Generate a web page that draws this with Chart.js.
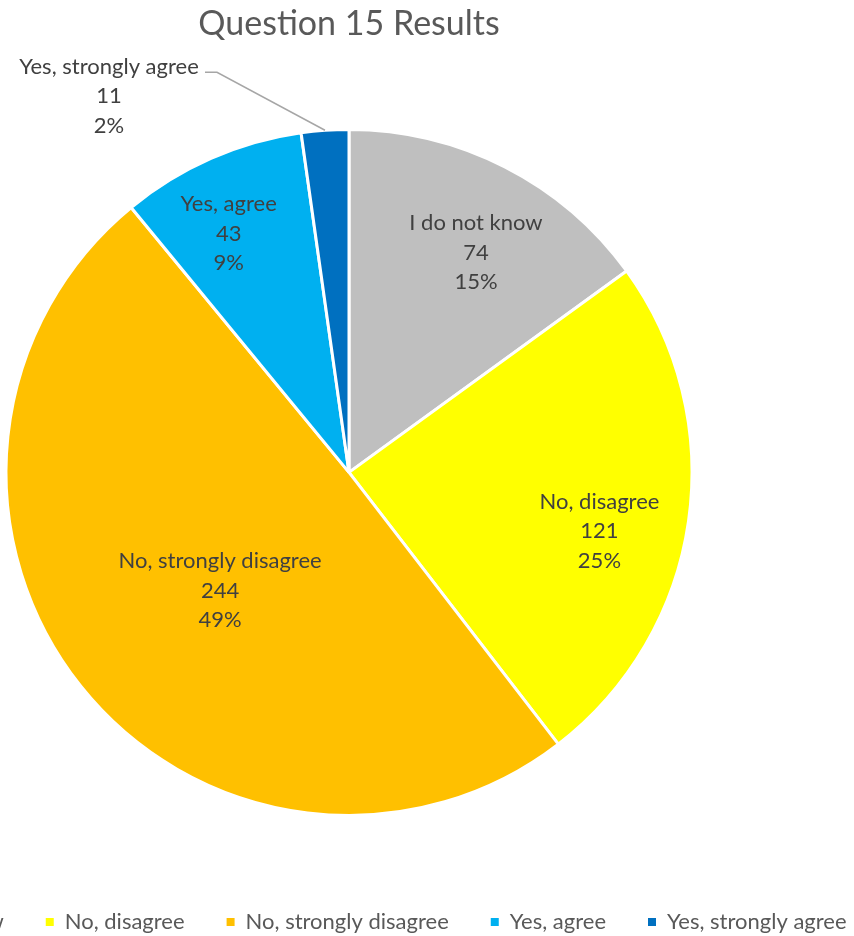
<!DOCTYPE html>
<html>
<head>
<meta charset="utf-8">
<script src="https://cdn.jsdelivr.net/npm/chart.js@4"></script>
<style>
  html, body { margin: 0; padding: 0; background: #fff; overflow: hidden; }
  #wrap { position: absolute; left: -301px; top: 0; width: 1300px; height: 975px; }
</style>
</head>
<body>
<div id="wrap"><canvas id="grafico" width="1300" height="975"></canvas></div>
<script>
const categorias = ['I do not know', 'No, disagree', 'No, strongly disagree', 'Yes, agree', 'Yes, strongly agree'];
const respostas = [74, 121, 244, 43, 11];
const cores = ['#BFBFBF', '#FFFF00', '#FFC000', '#00B0F0', '#0070C0'];

// onde cada rótulo fica (fração do raio, 0 = fora com linha guia) e pequeno ajuste de ângulo
const raioRotulo = [0.74, 0.75, 0.51, 0.78, 0];
const ajusteAngulo = [3, 5, -4, -3, 0];

const fonte = 'Lato, "Open Sans", sans-serif';
const ctx = document.getElementById('grafico').getContext('2d');

const rotulos = {
  id: 'rotulos',
  afterDatasetsDraw(chart) {
    const c = chart.ctx;
    const meta = chart.getDatasetMeta(0);
    const total = respostas.reduce((a, b) => a + b, 0);
    c.save();
    c.font = '22px ' + fonte;
    c.fillStyle = '#404040';
    c.textAlign = 'center';
    c.textBaseline = 'middle';
    meta.data.forEach((arc, i) => {
      const { x, y, startAngle, endAngle, outerRadius } = arc.getProps(['x', 'y', 'startAngle', 'endAngle', 'outerRadius'], true);
      const meio = (startAngle + endAngle) / 2 + ajusteAngulo[i] * Math.PI / 180;
      const linhas = [categorias[i], String(respostas[i]), Math.round(respostas[i] / total * 100) + '%'];
      let cx, cy;
      if (raioRotulo[i] > 0) {
        cx = x + Math.cos(meio) * outerRadius * raioRotulo[i];
        cy = y + Math.sin(meio) * outerRadius * raioRotulo[i];
      } else {
        // rótulo de fora com linha guia
        const px = x + Math.cos(meio) * outerRadius;
        const py = y + Math.sin(meio) * outerRadius;
        c.strokeStyle = '#A6A6A6';
        c.lineWidth = 1.5;
        c.beginPath();
        c.moveTo(px, py);
        c.lineTo(px - 108, py - 58);
        c.lineTo(px - 120, py - 58);
        c.stroke();
        cx = px - 216;
        cy = py - 34;
      }
      linhas.forEach((t, k) => c.fillText(t, cx, cy + (k - 1) * 29.5));
    });
    c.restore();
  }
};

const chart = new Chart(ctx, {
  type: 'pie',
  data: {
    labels: categorias,
    datasets: [{
      data: respostas,
      backgroundColor: cores,
      borderColor: '#fff',
      borderWidth: 3,
      radius: 343
    }]
  },
  options: {
    responsive: false,
    animation: false,
    layout: { padding: { top: 0, bottom: 32, left: 0, right: 0 } },
    plugins: {
      title: {
        display: true,
        text: 'Question 15 Results',
        color: '#595959',
        font: { family: fonte, size: 34, weight: 'normal' },
        padding: { top: 4, bottom: 31 }
      },
      legend: {
        position: 'bottom',
        labels: {
          color: '#595959',
          font: { family: fonte, size: 22 },
          boxWidth: 8,
          boxHeight: 8,
          padding: 42,
          generateLabels(chart) {
            return Chart.overrides.pie.plugins.legend.labels.generateLabels(chart)
              .map(l => ({ ...l, lineWidth: 0, strokeStyle: 'transparent' }));
          }
        }
      },
      tooltip: { enabled: false }
    }
  },
  plugins: [rotulos]
});
</script>
</body>
</html>
